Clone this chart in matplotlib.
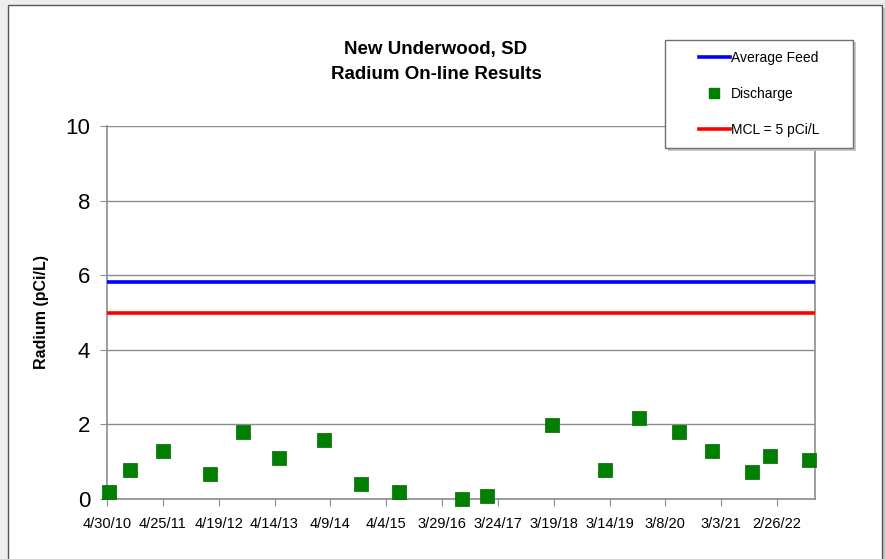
import numpy as np
import pandas as pd
import matplotlib
matplotlib.use("Agg")
import matplotlib.pyplot as plt
from matplotlib.patches import Rectangle
from matplotlib.lines import Line2D

plt.rcParams["font.family"] = ["Liberation Sans", "DejaVu Sans"]

# discharge samples
sample_dates = ["2010-05-13", "2010-09-28", "2011-04-26", "2012-02-26", "2012-09-23",
                "2013-05-13", "2014-02-27", "2014-10-26", "2015-06-26", "2016-08-05",
                "2017-01-13", "2018-03-11", "2019-02-13", "2019-09-18", "2020-06-07",
                "2021-01-03", "2021-09-15", "2022-01-09", "2022-09-22"]
discharge = [0.2, 0.78, 1.29, 0.67, 1.8, 1.09, 1.58, 0.4, 0.2, 0.0,
             0.09, 1.98, 0.78, 2.17, 1.8, 1.29, 0.73, 1.16, 1.05]
avg_feed = 5.81
mcl = 5.0
x_start = "2010-04-30"
x_end = "2022-10-29"
tick_step_days = 360

dates = pd.to_datetime(sample_dates)
t0 = pd.Timestamp(x_start)
t1 = pd.Timestamp(x_end)

fig = plt.figure(figsize=(8.85, 5.59), dpi=100, facecolor="#eeeeee")
# white chart frame with shadow
fig.patches.append(Rectangle((11 / 885, -0.02), 874 / 885, 1 - 8 / 559 + 0.02,
                             transform=fig.transFigure, facecolor="#c8c8c8",
                             edgecolor="none", zorder=-3))
fig.patches.append(Rectangle((8 / 885, -0.02), 874 / 885, 1 - 5 / 559 + 0.02,
                             transform=fig.transFigure, facecolor="white",
                             edgecolor="#555555", lw=1.0, zorder=-2))

ax = fig.add_axes([107 / 885, 1 - 499 / 559, (815 - 107) / 885, (499 - 126) / 559])
ax.set_facecolor("none")

ax.axhline(avg_feed, color="#0000ff", lw=2.6, zorder=3)
ax.axhline(mcl, color="#ff0000", lw=2.6, zorder=3)
ax.scatter(dates, discharge, marker="s", s=90, color="#007f00",
           edgecolor="#006400", lw=0.5, zorder=4, clip_on=False)

ax.set_ylim(0, 10)
ax.set_yticks(np.arange(0, 11, 2))
ax.yaxis.grid(True, color="#8c8c8c", lw=1.0)
ax.set_axisbelow(True)
ax.set_xlim(t0, t1)
ticks = pd.date_range(t0, t1, freq=f"{tick_step_days}D")
ax.set_xticks(ticks)
ax.set_xticklabels([f"{d.month}/{d.day}/{d.year % 100:02d}" for d in ticks])

for s in ["left", "bottom", "right"]:
    ax.spines[s].set_color("#8c8c8c")
    ax.spines[s].set_linewidth(1.2)
ax.spines["top"].set_visible(False)
ax.tick_params(axis="y", labelsize=16, length=5, color="#8c8c8c", pad=7)
ax.tick_params(axis="x", labelsize=10.5, length=5, color="#8c8c8c", pad=8)

ax.set_ylabel("Radium (pCi/L)", fontsize=11.5, fontweight="bold", labelpad=12)

fig.text(436 / 885, 1 - 62 / 559, "New Underwood, SD\nRadium On-line Results",
         ha="center", va="center", fontsize=13.5, fontweight="bold",
         linespacing=1.6)

# legend box
fig.patches.append(Rectangle((668 / 885, 1 - 151 / 559), 188 / 885, 109 / 559,
                             transform=fig.transFigure, facecolor="#c8c8c8",
                             edgecolor="none", zorder=1))
fig.patches.append(Rectangle((665 / 885, 1 - 148 / 559), 188 / 885, 108 / 559,
                             transform=fig.transFigure, facecolor="white",
                             edgecolor="#707070", lw=1.0, zorder=2))
handles = [Line2D([], [], color="#0000ff", lw=2.6),
           Line2D([], [], marker="s", ls="none", color="#007f00", markersize=7),
           Line2D([], [], color="#ff0000", lw=2.6)]
labels = ["Average Feed", "Discharge", "MCL = 5 pCi/L"]
leg = fig.legend(handles, labels, loc="center left",
                 bbox_to_anchor=(699 / 885, 1 - 94 / 559), frameon=False,
                 fontsize=10, handlelength=2.2, handletextpad=0.1,
                 labelspacing=1.6, borderpad=0, borderaxespad=0)
leg.set_zorder(5)

fig.savefig("out.png", dpi=100, facecolor=fig.get_facecolor())
